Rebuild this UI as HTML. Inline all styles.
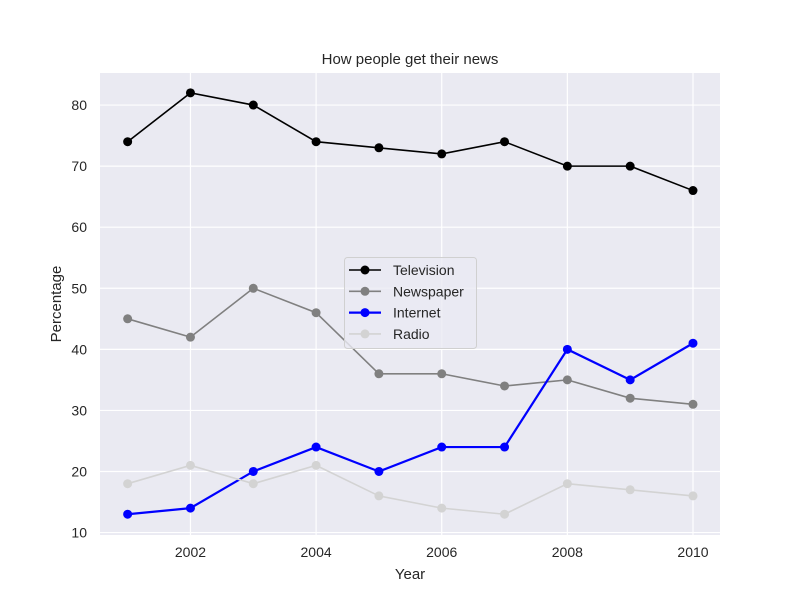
<!DOCTYPE html>
<html><head><meta charset="utf-8">
<style>
body{margin:0;background:#fff;}
svg{display:block;font-family:"Liberation Sans",sans-serif;}
</style></head>
<body>
<svg id="chart" width="800" height="600"></svg>
<script>
const years = [2001,2002,2003,2004,2005,2006,2007,2008,2009,2010];
const television = [74,82,80,74,73,72,74,70,70,66];
const newspaper = [45,42,50,46,36,36,34,35,32,31];
const internet = [13,14,20,24,20,24,24,40,35,41];
const radio = [18,21,18,21,16,14,13,18,17,16];
const seriesNames = ["Television","Newspaper","Internet","Radio"];
const xTicks = [2002,2004,2006,2008,2010];
const yTicks = [10,20,30,40,50,60,70,80];

const NS="http://www.w3.org/2000/svg";
const svg=document.getElementById('chart');
const L=100,R=720,T=73,B=535;
const x0=2000.56,x1=2010.43,y0=9.6,y1=85.25;
const sx=v=>L+(v-x0)/(x1-x0)*(R-L);
const sy=v=>B-(v-y0)/(y1-y0)*(B-T);
function mk(tag,attrs,parent){const e=document.createElementNS(NS,tag);for(const k in attrs)e.setAttribute(k,attrs[k]);(parent||svg).appendChild(e);return e;}

const bg=mk('rect',{x:L,y:T,width:R-L,height:B-T,fill:'#eaeaf2'});


xTicks.forEach(t=>{
  const g=mk('line',{x1:sx(t),x2:sx(t),y1:T,y2:B,stroke:'#fff','stroke-width':1.2});
  
  
  const lb=mk('text',{x:sx(t),y:B+22,'text-anchor':'middle','font-size':14,fill:'#262626'});
  lb.textContent=t;
  
  
});
yTicks.forEach(t=>{
  const g=mk('line',{x1:L,x2:R,y1:sy(t),y2:sy(t),stroke:'#fff','stroke-width':1.2});
  
  
  const lb=mk('text',{x:L-13,y:sy(t)+5,'text-anchor':'end','font-size':14,fill:'#262626'});
  lb.textContent=t;
  
  
});
const data=[television,newspaper,internet,radio];
const colors=['#000000','#808080','#0000ff','#d3d3d3'];
const widths=[1.6,1.6,2.2,1.6];
data.forEach((s,i)=>{
  const g=mk('g',{});
  
  
  mk('polyline',{points:s.map((v,j)=>sx(years[j])+','+sy(v)).join(' '),fill:'none',stroke:colors[i],'stroke-width':widths[i]},g);
  s.forEach((v,j)=>{
    const c=mk('circle',{cx:sx(years[j]),cy:sy(v),r:4.5,fill:colors[i]},g);
    
    
  });
});
const title=mk('text',{x:410,y:64,'text-anchor':'middle','font-size':15,fill:'#262626'});
title.textContent='How people get their news';


const xt=mk('text',{x:410,y:579,'text-anchor':'middle','font-size':15,fill:'#262626'});
xt.textContent='Year';


const yt=mk('text',{x:0,y:0,'text-anchor':'middle','font-size':15,fill:'#262626',transform:'translate(61,304) rotate(-90)'});
yt.textContent='Percentage';


const lg=mk('g',{});


mk('rect',{x:344.5,y:257.5,width:132,height:91,rx:3,fill:'#eaeaf2','fill-opacity':0.8,stroke:'#d0d0d0'},lg);
seriesNames.forEach((n,i)=>{
  const y=270+i*21.3;
  mk('line',{x1:349,x2:381,y1:y,y2:y,stroke:colors[i],'stroke-width':widths[i]},lg);
  mk('circle',{cx:365,cy:y,r:4.5,fill:colors[i]},lg);
  const t=mk('text',{x:393,y:y+5,'font-size':14,fill:'#262626'},lg);
  t.textContent=n;
  
  
});
</script>
</body></html>
